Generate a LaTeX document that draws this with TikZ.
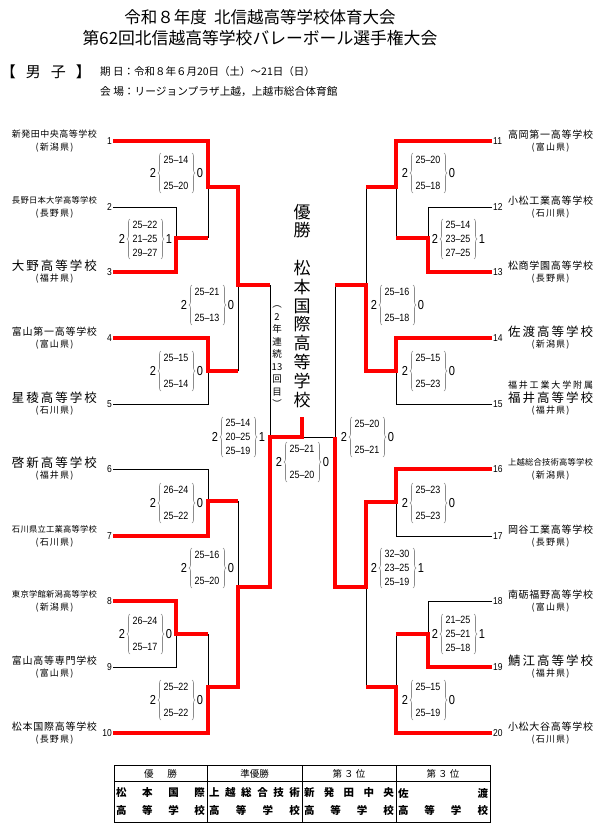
\documentclass[tikz,border=0pt]{standalone}
\usepackage{fontspec}
\setmainfont{Noto Sans CJK JP}
\newfontfamily\numfont{Liberation Sans}[FakeStretch=0.85]
\usetikzlibrary{decorations.pathreplacing}
\definecolor{wred}{RGB}{255,0,0}
\makeatletter
\def\spreadtok#1{\spr@a#1\spr@end}
\def\spr@a#1#2\spr@end{#1\ifx\relax#2\relax\else\hfill\spr@a#2\spr@end\fi}
\makeatother
\newcommand\spreadbox[2]{\makebox[#1pt][s]{\spreadtok{#2}}}
% two-set score
\newcommand\sctwo[7]{%
  \node[setn] (#1L) at (#2-23,#3) {#4};
  \node[setn] (#1R) at (#2+24,#3) {#5};
  \node[sval] (#1a) at (#2,#3-13) {#6};
  \node[sval] (#1b) at (#2,#3+13) {#7};
  \draw[brc] (#2-15,#3+20) -- (#2-15,#3-20);
  \draw[brc] (#2+16,#3-20) -- (#2+16,#3+20);
}
\newcommand\scthree[8]{%
  \node[setn] (#1L) at (#2-23,#3) {#4};
  \node[setn] (#1R) at (#2+24,#3) {#5};
  \node[sval] (#1a) at (#2,#3-14) {#6};
  \node[sval] (#1b) at (#2,#3) {#7};
  \node[sval] (#1c) at (#2,#3+14) {#8};
  \draw[brc] (#2-15,#3+20) -- (#2-15,#3-20);
  \draw[brc] (#2+16,#3-20) -- (#2+16,#3+20);
}
\newcommand\teamL[5]{%
  \coordinate (p#1) at (113,#2);
  \node[tnum,anchor=east] (n#1) at (112,#2) {#1};
  \node[tname] (nm#1) at (54.5,#2-6.5) {\fontsize{#3}{#3}\selectfont\spreadbox{85}{#4}};
  \node[tpref] (pf#1) at (54.5,#2+7) {\spreadbox{38}{#5}};
}
\newcommand\teamR[5]{%
  \coordinate (p#1) at (492,#2);
  \node[tnum,anchor=west] (n#1) at (493,#2) {#1};
  \node[tname] (nm#1) at (550.5,#2-6.5) {\fontsize{#3}{#3}\selectfont\spreadbox{85}{#4}};
  \node[tpref] (pf#1) at (550.5,#2+7) {\spreadbox{38}{#5}};
}
\begin{document}
\begin{tikzpicture}[x=1pt,y=-1pt,
  win/.style={draw=wred,line width=4.8pt},
  lose/.style={draw=black,line width=0.9pt},
  setn/.style={font=\numfont\fontsize{13}{14}\selectfont,inner sep=0pt},
  sval/.style={font=\numfont\fontsize{10.5}{12}\selectfont,inner sep=0pt},
  brc/.style={draw=black!45,line width=0.6pt,decorate,decoration={brace,amplitude=3pt}},
  tnum/.style={font=\numfont\fontsize{10}{11}\selectfont,inner sep=0pt},
  tname/.style={inner sep=0pt},
  tpref/.style={font=\fontsize{9}{10}\selectfont,inner sep=0pt},
  hdr/.style={inner sep=0pt},
  tbl/.style={draw=black,line width=0.9pt},
  cell/.style={inner sep=0pt,font=\bfseries\fontsize{10.5}{11}\selectfont},
  chead/.style={inner sep=0pt,font=\fontsize{9.5}{10}\selectfont},
]
\useasboundingbox[fill=white] (0,0) rectangle (608,830);

% ---- header ----
\node[hdr,font=\fontsize{16.5}{18}\selectfont] (title1) at (260,17) {令和８年度\hspace{0.45em}北信越高等学校体育大会};
\node[hdr,font=\fontsize{16.8}{18}\selectfont] (title2) at (260,38) {第62回北信越高等学校バレーボール選手権大会};
\node[hdr,font=\fontsize{15}{16}\selectfont] (sex) at (46,72) {\spreadbox{90}{【男子】}};
\node[hdr,anchor=west,font=\fontsize{10.5}{12}\selectfont] (date) at (100,72) {期 日：令和８年６月20日（土）～21日（日）};
\node[hdr,anchor=west,font=\fontsize{10.7}{12}\selectfont] (venue) at (100,92) {会 場：リージョンプラザ上越，上越市総合体育館};

% ---- teams ----
\teamL{1}{141}{9}{新発田中央高等学校}{(新潟県)}
\teamL{2}{207}{8.3}{長野日本大学高等学校}{(長野県)}
\teamL{3}{272}{12.5}{大野高等学校}{(福井県)}
\teamL{4}{338}{10}{富山第一高等学校}{(富山県)}
\teamL{5}{404}{12.5}{星稜高等学校}{(石川県)}
\teamL{6}{469}{12.5}{啓新高等学校}{(福井県)}
\teamL{7}{536}{8.3}{石川県立工業高等学校}{(石川県)}
\teamL{8}{601}{8.3}{東京学館新潟高等学校}{(新潟県)}
\teamL{9}{667}{10}{富山高等専門学校}{(富山県)}
\teamL{10}{733}{10}{松本国際高等学校}{(長野県)}

\teamR{11}{141}{10}{高岡第一高等学校}{(富山県)}
\teamR{12}{207}{10}{小松工業高等学校}{(石川県)}
\teamR{13}{272}{10}{松商学園高等学校}{(長野県)}
\teamR{14}{338}{12.5}{佐渡高等学校}{(新潟県)}
% team 15 (two-line name)
\coordinate (p15) at (492,404);
\node[tnum,anchor=west] (n15) at (493,404) {15};
\node[tname] (nm15a) at (550.5,385) {\fontsize{9}{9}\selectfont\spreadbox{85}{福井工業大学附属}};
\node[tname] (nm15) at (550.5,398) {\fontsize{12.5}{12.5}\selectfont\spreadbox{85}{福井高等学校}};
\node[tpref] (pf15) at (550.5,411) {\spreadbox{38}{(福井県)}};
\teamR{16}{469}{8.3}{上越総合技術高等学校}{(新潟県)}
\teamR{17}{536}{10}{岡谷工業高等学校}{(長野県)}
\teamR{18}{601}{10}{南砺福野高等学校}{(富山県)}
\teamR{19}{667}{12.5}{鯖江高等学校}{(福井県)}
\teamR{20}{733}{10}{小松大谷高等学校}{(石川県)}

% ---- junctions ----
\coordinate (j23) at (176,238);
\coordinate (j1) at (208,187);
\coordinate (j45) at (208,371);
\coordinate (jQL1) at (238,285);
\coordinate (j67) at (208,501);
\coordinate (j89) at (176,634);
\coordinate (j810) at (208,687);
\coordinate (jQL2) at (238,587);
\coordinate (jSL) at (270,437);
\coordinate (champ) at (302,437);
\coordinate (champtop) at (302,417);
\coordinate (jSR) at (335,437);
\coordinate (jQR1) at (366,285);
\coordinate (j11) at (396,187);
\coordinate (j1213) at (428,238);
\coordinate (j1415) at (396,371);
\coordinate (j1617) at (396,502);
\coordinate (jQR2) at (366,587);
\coordinate (j1819) at (428,634);
\coordinate (j1820) at (396,687);

% ---- losing (thin) lines ----
\draw[lose] (p2) -| (j23);
\draw[lose] (j23 -| j1) -- (j1);
\draw[lose] (p5) -| (j45);
\draw[lose] (j45 -| jQL1) -- (jQL1);
\draw[lose] (p6) -| (j67);
\draw[lose] (j67 -| jQL2) -- (jQL2);
\draw[lose] (p9) -| (j89);
\draw[lose] (j89 -| j810) -- (j810);
\draw[lose] (jQL1 -| jSL) -- (jSL);
\draw[lose] (champ) -- (jSR);
\draw[lose] (j11 -| jQR1) -- (jQR1);
\draw[lose] (p12) -| (j1213);
\draw[lose] (j1213 -| j11) -- (j11);
\draw[lose] (p15) -| (j1415);
\draw[lose] (jQR1 -| jSR) -- (jSR);
\draw[lose] (p17) -| (j1617);
\draw[lose] (p18) -| (j1819);
\draw[lose] (j1819 -| j1820) -- (j1820);
\draw[lose] (j1820 -| jQR2) -- (jQR2);

% ---- winning (red) lines ----
\draw[win] (p1) -| (j1) -| (jQL1) -- (jQL1 -| jSL);
\draw[win] (p3) -| (j23) -- (j23 -| j1);
\draw[win] (p4) -| (j45) -- (j45 -| jQL1);
\draw[win] (p7) -| (j67) -- (j67 -| jQL2);
\draw[win] (p8) -| (j89) -- (j89 -| j810);
\draw[win] (p10) -| (j810) -| (jQL2) -| (jSL) -- (champ) -- (champtop);
\draw[win] (p11) -| (j11) -- (j11 -| jQR1);
\draw[win] (p13) -| (j1213) -- (j1213 -| j11);
\draw[win] (p14) -| (j1415) -| (jQR1) -- (jQR1 -| jSR);
\draw[win] (p16) -| (j1617) -| (jQR2) -| (jSR);
\draw[win] (p19) -| (j1819) -- (j1819 -| j1820);
\draw[win] (p20) -| (j1820) -- (j1820 -| jQR2);

% ---- scores ----
\sctwo{m1}{176}{173}{2}{0}{25–14}{25–20}
\scthree{m23}{145}{239}{2}{1}{25–22}{21–25}{29–27}
\sctwo{qL1}{207}{305}{2}{0}{25–21}{25–13}
\sctwo{m45}{176}{371}{2}{0}{25–15}{25–14}
\scthree{sfL}{238}{437}{2}{1}{25–14}{20–25}{25–19}
\sctwo{m67}{176}{503}{2}{0}{26–24}{25–22}
\sctwo{qL2}{207}{568}{2}{0}{25–16}{25–20}
\sctwo{m89}{145}{634}{2}{0}{26–24}{25–17}
\sctwo{m810}{176}{700}{2}{0}{25–22}{25–22}
\sctwo{fin}{302}{462}{2}{0}{25–21}{25–20}
\sctwo{m11}{428}{173}{2}{0}{25–20}{25–18}
\scthree{m1213}{458}{239}{2}{1}{25–14}{23–25}{27–25}
\sctwo{qR1}{397}{305}{2}{0}{25–16}{25–18}
\sctwo{m1415}{428}{371}{2}{0}{25–15}{25–23}
\sctwo{sfR}{367}{437}{2}{0}{25–20}{25–21}
\sctwo{m1617}{428}{503}{2}{0}{25–23}{25–23}
\scthree{qR2}{397}{568}{2}{1}{32–30}{23–25}{25–19}
\scthree{m1819}{458}{634}{2}{1}{21–25}{25–21}{25–18}
\sctwo{m1820}{428}{700}{2}{0}{25–15}{25–19}

% ---- champion (vertical) ----
\node[align=center,inner sep=0pt,font=\fontsize{17}{18}\selectfont] (yusho) at (302,221) {優\\勝};
\node[align=center,inner sep=0pt,font=\fontsize{17}{18.9}\selectfont] (chname) at (302,334) {松\\本\\国\\際\\高\\等\\学\\校};
\node[align=center,inner sep=0pt,font=\fontsize{9.5}{12.5}\selectfont] (streak) at (277,357) {︵\\2\\年\\連\\続\\13\\回\\目\\︶};

% ---- results table ----
\draw[tbl] (114,765) rectangle (490,822);
\draw[tbl] (114,781) -- (490,781);
\draw[tbl] (207,765) -- (207,822);
\draw[tbl] (302,765) -- (302,822);
\draw[tbl] (396,765) -- (396,822);
\node[chead] (h1) at (160.5,773.5) {\spreadbox{33}{優勝}};
\node[chead] (h2) at (254.5,773.5) {準優勝};
\node[chead] (h3) at (349,773.5) {\spreadbox{33}{第３位}};
\node[chead] (h4) at (443,773.5) {\spreadbox{33}{第３位}};
\node[cell] (c1a) at (160.5,793) {\spreadbox{89}{松本国際}};
\node[cell] (c1b) at (160.5,810) {\spreadbox{89}{高等学校}};
\node[cell] (c2a) at (254.5,793) {\spreadbox{91}{上越総合技術}};
\node[cell] (c2b) at (254.5,810) {\spreadbox{91}{高等学校}};
\node[cell] (c3a) at (349,793) {\spreadbox{90}{新発田中央}};
\node[cell] (c3b) at (349,810) {\spreadbox{90}{高等学校}};
\node[cell] (c4a) at (443,793) {\spreadbox{90}{佐渡}};
\node[cell] (c4b) at (443,810) {\spreadbox{90}{高等学校}};
\end{tikzpicture}
\end{document}
